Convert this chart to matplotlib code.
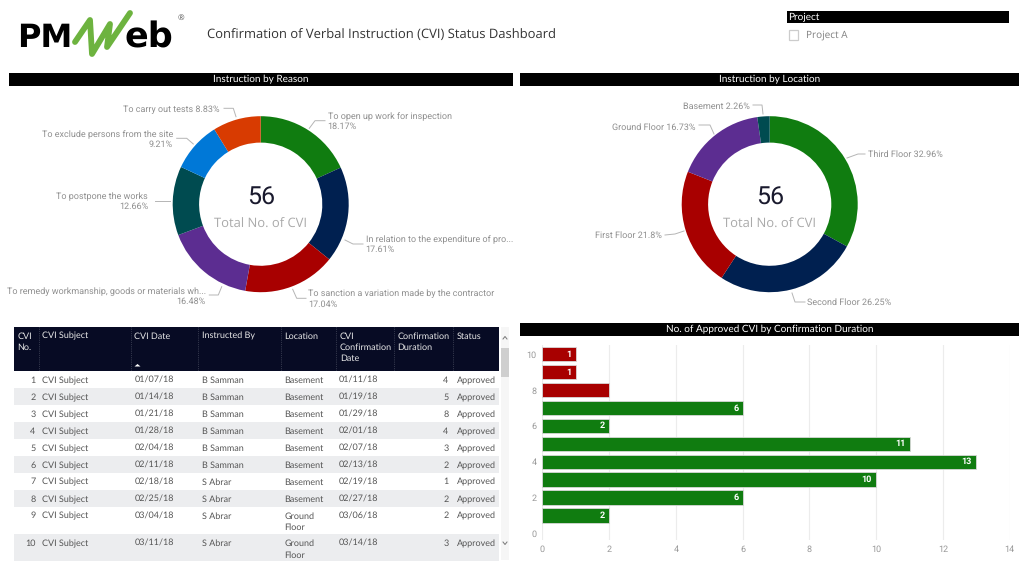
import numpy as np
import matplotlib
matplotlib.use("Agg")
import matplotlib.pyplot as plt
from matplotlib.patches import Rectangle, Polygon

# data
reason_labels = ["To open up work for inspection", "In relation to the expenditure of pro...",
                 "To sanction a variation made by the contractor", "To remedy workmanship, goods or materials wh...",
                 "To postpone the works", "To exclude persons from the site", "To carry out tests"]
reason_vals = [18.17, 17.61, 17.04, 16.48, 12.66, 9.21, 8.83]
reason_cols = ["#107C10", "#002050", "#A80000", "#5C2D91", "#004B50", "#0078D7", "#D83B01"]

loc_labels = ["Third Floor", "Second Floor", "First Floor", "Ground Floor", "Basement"]
loc_vals = [32.96, 26.25, 21.8, 16.73, 2.26]
loc_cols = ["#107C10", "#002050", "#A80000", "#5C2D91", "#004B50"]

duration = [1, 2, 3, 4, 5, 6, 7, 8, 9, 10]
approved = [2, 6, 10, 13, 11, 2, 6, 2, 1, 1]

headers = ["CVI\nNo.", "CVI Subject", "CVI Date", "Instructed By", "Location",
           "CVI\nConfirmation\nDate", "Confirmation\nDuration", "Status"]
cvi_no = [1, 2, 3, 4, 5, 6, 7, 8, 9, 10]
cvi_date = ["01/07/18", "01/14/18", "01/21/18", "01/28/18", "02/04/18",
            "02/11/18", "02/18/18", "02/25/18", "03/04/18", "03/11/18"]
instructed = ["B Samman"] * 6 + ["S Abrar"] * 4
location = ["Basement"] * 8 + ["Ground\nFloor"] * 2
conf_date = ["01/11/18", "01/19/18", "01/29/18", "02/01/18", "02/07/18",
             "02/13/18", "02/19/18", "02/27/18", "03/06/18", "03/14/18"]
conf_dur = [4, 5, 8, 4, 3, 2, 1, 2, 2, 3]

W, H = 1024, 563
plt.rcParams["font.family"] = ["Open Sans", "DejaVu Sans"]
plt.rcParams["text.hinting"] = "none"
plt.rcParams["text.hinting_factor"] = 1
GREY = "#8f8f8f"
TXT = "#555555"
ROW_FS = 6.35

fig = plt.figure(figsize=(W / 100, H / 100), dpi=100, facecolor="white")


def px_axes(x0, y0, x1, y1):
    return fig.add_axes([x0 / W, 1 - y1 / H, (x1 - x0) / W, (y1 - y0) / H])


# overlay in pixel coords for the header, title bars and table
bg = fig.add_axes([0, 0, 1, 1], zorder=0)
bg.set_xlim(0, W)
bg.set_ylim(H, 0)
bg.axis("off")


def title_bar(x0, x1, y0, y1, text, ha="center", size=7.1):
    bg.add_patch(Rectangle((x0, y0), x1 - x0, y1 - y0, fc="black", ec="none"))
    tx = (x0 + x1) / 2 if ha == "center" else x0 + 1
    bg.text(tx, (y0 + y1) / 2 + 3.2, text, color="white", fontsize=size, ha=ha, va="baseline", family="Lato")


# logo
bg.text(17, 47, "PM", fontsize=23, fontweight="bold", family="DejaVu Sans", color="black", va="baseline")
bg.text(124, 47, "eb", fontsize=25.5, fontweight="bold", family="DejaVu Sans", color="black", va="baseline")
bg.plot([75, 90, 92, 110, 107, 130], [42, 20, 54, 24, 47, 13], color="#6DB33F", lw=4.2,
        solid_capstyle="round", solid_joinstyle="round")
bg.text(181, 18, "®", fontsize=6, color="#555555", ha="center", va="center")
bg.text(207, 36, "Confirmation of Verbal Instruction (CVI) Status Dashboard", fontsize=9.22,
        color="#333333", va="center")

# slicer
title_bar(787, 1008.5, 10.5, 23, "Project", ha="left", size=7.2)
bg.add_patch(Rectangle((788.5, 30), 9.5, 9.5, fc="white", ec="#cccccc", lw=0.9))
bg.text(805.5, 35, "Project A", fontsize=7.2, color="#808080", va="center")

title_bar(9, 512.5, 73, 86, "Instruction by Reason")
title_bar(520, 1019, 73, 86, "Instruction by Location")
title_bar(520, 1019, 323, 336, "No. of Approved CVI by Confirmation Duration")


def donut(cx, cy, r, vals, cols):
    ax = px_axes(cx - r, cy - r, cx + r, cy + r)
    ax.pie(vals, colors=cols, startangle=90, counterclock=False, radius=1,
           wedgeprops=dict(width=0.30, edgecolor="none"))
    ax.set_xlim(-1, 1)
    ax.set_ylim(-1, 1)
    ax.text(0, 0.07, "56", fontsize=18, color="#1a1a2e", ha="center", va="center", family="Roboto")
    ax.text(0, -0.235, "Total No. of CVI", fontsize=9.2, color="#aaaaaa", ha="center", va="center")
    return ax


donut(260.7, 204.2, 88, reason_vals, reason_cols)
donut(769.7, 204.2, 88, loc_vals, loc_cols)


def callout(text, tx, ty, ha, line):
    bg.text(tx, ty + 0.5, text, fontsize=6.3, color=GREY, ha=ha, va="center", family="Roboto", linespacing=1.25)
    bg.plot(line[0], line[1], color="#b5b5b5", lw=0.7)


# reason callouts
callout(f"{reason_labels[0]}\n{reason_vals[0]}%", 327.7, 121, "left", ([309.3, 315, 325], [128.3, 120.7, 120.7]))
callout(f"{reason_labels[1]}\n{reason_vals[1]}%", 365.7, 244, "left", ([345, 353, 363], [240, 244, 244]))
callout(f"{reason_labels[2]}\n{reason_vals[2]}%", 308, 298.5, "left", ([292.7, 296.7, 306], [289.3, 298.3, 298.3]))
callout(f"{reason_labels[3]}\n{reason_vals[3]}%", 205.7, 296, "right", ([221.7, 218.3, 209.3], [286.7, 295, 295]))
callout(f"{reason_labels[4]}\n{reason_vals[4]}%", 148, 201, "right", ([170, 155], [201, 201]))
callout(f"{reason_labels[5]}\n{reason_vals[5]}%", 173, 139, "right", ([193.3, 186.7, 176.7], [144, 138.3, 138.3]))
callout(f"{reason_labels[6]} {reason_vals[6]}%", 220, 109, "right", ([236, 233.3, 224], [116.7, 108.3, 108.3]))

# location callouts
callout(f"{loc_labels[0]} {loc_vals[0]}%", 868, 154, "left", ([847, 858, 865], [158, 154, 154]))
callout(f"{loc_labels[1]} {loc_vals[1]}%", 807, 301.7, "left", ([792, 795, 805], [293, 302, 302]))
callout(f"{loc_labels[2]} {loc_vals[2]}%", 661.7, 235, "right", ([684, 675, 665], [231, 234, 235]))
callout(f"{loc_labels[3]} {loc_vals[3]}%", 695, 126.7, "right", ([714, 710, 699], [134, 125, 125]))
callout(f"{loc_labels[4]} {loc_vals[4]}%", 750, 105.7, "right", ([763, 762, 753], [114, 105, 105]))

# bar chart
ax = px_axes(542.3, 345, 1009.7, 540)
bar_cols = ["#107C10" if d <= 7 else "#A80000" for d in duration]
ax.barh(duration, approved, height=0.80, color=bar_cols, edgecolor="#d8d8d8", linewidth=0.6, zorder=3)
for d, v in zip(duration, approved):
    if d == 8:
        continue
    ax.text(v - 0.13, d, str(v), color="white", fontsize=6.5, fontweight="bold", ha="right", va="center",
            family="Roboto", zorder=4)
ax.set_xlim(0, 14)
ax.set_ylim(-0.37, 10.52)
ax.set_xticks(range(0, 15, 2))
ax.set_yticks(range(0, 11, 2))
ax.tick_params(length=0, labelsize=6.8, labelcolor="#999999", pad=4)
ax.grid(axis="x", color="#ececec", lw=0.8, zorder=0)
ax.set_axisbelow(True)
ax.patch.set_alpha(0)
for s in ax.spines.values():
    s.set_visible(False)
for lab in ax.get_xticklabels() + ax.get_yticklabels():
    lab.set_family("Roboto")

# table
col_x = [13.5, 38.5, 130.5, 198, 280.5, 336, 393.5, 452.5, 499]
row_y = [371, 388, 405, 422, 439, 456, 472.5, 490, 506.5, 534, 560.5]
bg.add_patch(Rectangle((col_x[0], 327), col_x[-1] - col_x[0], 44, fc="#070B24", ec="none"))
for x in col_x[1:-1]:
    bg.plot([x, x], [327, 371], color="#5a5f70", lw=0.5, ls=":")
for c, h in enumerate(headers):
    for k, part in enumerate(h.split("\n")):
        bg.text(col_x[c] + 4, 338.5 + k * 11, part, color="#e8e8e8", fontsize=ROW_FS, va="baseline", family="Lato")
bg.add_patch(Polygon([[134.5, 366.5], [137.5, 364], [140.5, 366.5]], fc="white", ec="none"))

for i in range(len(cvi_no)):
    top, bot = row_y[i], row_y[i + 1]
    if i % 2 == 1:
        bg.add_patch(Rectangle((col_x[0], top), col_x[-1] - col_x[0], bot - top, fc="#ECEDEF", ec="none"))
    ty = top + 12
    for x, s, ha in [(col_x[1] - 3, str(cvi_no[i]), "right"),
                     (col_x[1] + 4, "CVI Subject", "left"),
                     (col_x[2] + 4, cvi_date[i], "left"),
                     (col_x[3] + 4, instructed[i], "left"),
                     (col_x[5] + 3, conf_date[i], "left"),
                     (col_x[7] - 4, str(conf_dur[i]), "right"),
                     (col_x[7] + 4, "Approved", "left")]:
        bg.text(x, ty, s, fontsize=ROW_FS, color=TXT, ha=ha, va="baseline", family="Lato")
    for k, part in enumerate(location[i].split("\n")):
        bg.text(col_x[4] + 4, ty + k * 11.7, part, fontsize=ROW_FS, color=TXT, va="baseline", family="Lato")

# scrollbar
bg.add_patch(Rectangle((501, 327), 8, 233, fc="#f6f6f6", ec="none"))
bg.add_patch(Rectangle((501, 348), 8, 29, fc="#cfcfcf", ec="none"))
bg.plot([503, 505, 507], [339, 336.5, 339], color="#777777", lw=0.7)
bg.plot([503, 505, 507], [542, 544.5, 542], color="#777777", lw=0.7)

fig.savefig("out.png", dpi=100)
